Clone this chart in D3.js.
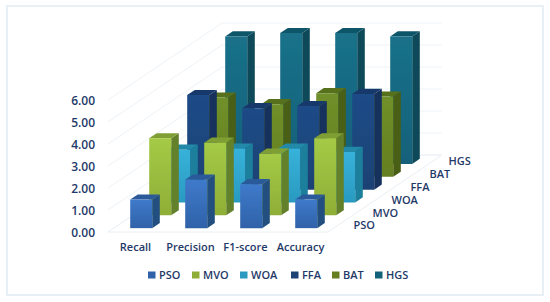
<!DOCTYPE html>
<html>
<head>
<meta charset="utf-8">
<script src="https://cdn.jsdelivr.net/npm/d3@7"></script>
<style>
  html, body { margin: 0; padding: 0; background: #fff; }
  text { font-family: "Open Sans", sans-serif; font-weight: 600; fill: #1f3a68; }
</style>
</head>
<body>
<div id="chart"></div>
<script>
let width = 550, height = 302;

let categories = ["Recall", "Precision", "F1-score", "Accuracy"];
let seriesNames = ["PSO", "MVO", "WOA", "FFA", "BAT", "HGS"];
let yTicks = [0, 1, 2, 3, 4, 5, 6];

let pso = [1.3, 2.2, 2.0, 1.3];
let mvo = [3.5, 3.3, 2.8, 3.5];
let woa = [2.4, 2.45, 2.45, 2.3];
let ffa = [4.3, 3.7, 3.8, 4.35];
let bat = [3.6, 3.3, 3.8, 3.65];
let hgs = [5.8, 5.95, 5.95, 5.8];
let seriesValues = [pso, mvo, woa, ffa, bat, hgs];

// front, top and side colours of each series
let frontTop = ["#3f7acb", "#a4ca46", "#37b2da", "#1f4b87", "#70902a", "#1a7189"];
let frontBottom = ["#2f62a8", "#8fae37", "#2a9ac0", "#1c4274", "#657f20", "#12617a"];
let topColors = ["#2a5a9a", "#7f9f35", "#2289a8", "#17386b", "#566f1c", "#0f5568"];
let sideColors = ["#24507f", "#64802b", "#1f7f9c", "#17305c", "#4a5e17", "#0d4858"];

let legendSwatchX = [148, 192, 240, 291, 332, 375];

// how far the depth axis travels on screen
let depthDx = 114, depthDy = -77;

let x = d3.scaleBand().domain(categories).range([108, 328]).paddingInner(0.6).paddingOuter(0.3);
let y = d3.scaleLinear().domain([0, 6]).range([232, 100]);
let depth = d3.scaleBand().domain(seriesNames).range([0, 1]).paddingInner(0.6).paddingOuter(0.3);

let svg = d3.select("#chart").append("svg")
  .attr("width", width)
  .attr("height", height)
  .style("display", "block");

let defs = svg.append("defs");
seriesNames.forEach(function (s, i) {
  let g = defs.append("linearGradient").attr("id", "front" + i)
    .attr("x1", 0).attr("y1", 0).attr("x2", 0).attr("y2", 1);
  g.append("stop").attr("offset", "0%").attr("stop-color", frontTop[i]);
  g.append("stop").attr("offset", "100%").attr("stop-color", frontBottom[i]);
});
// the reference is a little soft
defs.append("filter").attr("id", "soft")
  .append("feGaussianBlur").attr("stdDeviation", 0.4);

// outer frame
svg.append("rect")
  .attr("x", 7).attr("y", 6)
  .attr("width", 536).attr("height", 289)
  .attr("fill", "#fff")
  .attr("stroke", "#e8f0f6")
  .attr("stroke-width", 2);

// screen position of a point: px along the width, value up, t along the depth
function pt(px, v, t) {
  return [px + depthDx * t, y(v) + depthDy * t];
}
function poly(points) {
  return points.map(function (p) { return p.join(","); }).join(" ");
}

// floor
svg.append("polygon")
  .attr("points", poly([pt(108, 0, 0), pt(328, 0, 0), pt(328, 0, 1), pt(108, 0, 1)]))
  .attr("fill", "#fff")
  .attr("stroke", "#eaf0f5");

// gridlines on side wall and back wall
yTicks.forEach(function (v) {
  let a = pt(108, v, 0), b = pt(108, v, 1), c = pt(328, v, 1);
  svg.append("polyline")
    .attr("points", poly([a, b, c]))
    .attr("fill", "none")
    .attr("stroke", "#eef3f7");
});

// bars, back row first
let bars = svg.append("g").attr("filter", "url(#soft)");
for (let i = seriesNames.length - 1; i >= 0; i--) {
  let s = seriesNames[i];
  let t0 = depth(s), t1 = t0 + depth.bandwidth();
  let row = bars.append("g").attr("class", "row-" + s);
  categories.forEach(function (c, j) {
    let v = seriesValues[i][j];
    let x0 = x(c), x1 = x0 + x.bandwidth();
    row.append("polygon")
      .attr("points", poly([pt(x1, 0, t0), pt(x1, 0, t1), pt(x1, v, t1), pt(x1, v, t0)]))
      .attr("fill", sideColors[i]);
    row.append("polygon")
      .attr("points", poly([pt(x0, v, t0), pt(x1, v, t0), pt(x1, v, t1), pt(x0, v, t1)]))
      .attr("fill", topColors[i]);
    row.append("polygon")
      .attr("points", poly([pt(x0, 0, t0), pt(x1, 0, t0), pt(x1, v, t0), pt(x0, v, t0)]))
      .attr("fill", "url(#front" + i + ")");
  });
}

// value axis
let yAxis = svg.append("g")
  .attr("transform", "translate(108,1)")
  .call(d3.axisLeft(y).tickValues(yTicks).tickSize(0).tickPadding(13).tickFormat(d3.format(".2f")));
yAxis.select(".domain").remove();
yAxis.selectAll("text").style("font-size", "12px");

// category axis
let xAxis = svg.append("g")
  .attr("transform", "translate(0,232)")
  .call(d3.axisBottom(x).tickSize(0).tickPadding(11));
xAxis.select(".domain").remove();
xAxis.selectAll("text").style("font-size", "11px");

// series labels along the depth axis
svg.selectAll(".depth-label")
  .data(seriesNames)
  .enter()
  .append("text")
  .attr("class", "depth-label")
  .attr("x", function (d) { return pt(328, 0, depth(d) + depth.bandwidth() / 2)[0] + 16; })
  .attr("y", function (d) { return pt(328, 0, depth(d) + depth.bandwidth() / 2)[1]; })
  .attr("dy", "0.35em")
  .style("font-size", "11px")
  .text(function (d) { return d; });

// legend
let legend = svg.selectAll(".legend")
  .data(seriesNames)
  .enter()
  .append("g")
  .attr("class", "legend")
  .attr("transform", function (d, i) { return "translate(" + legendSwatchX[i] + ",275)"; });
legend.append("rect")
  .attr("x", 0).attr("y", -3.5)
  .attr("width", 7.5).attr("height", 7)
  .attr("fill", function (d, i) { return frontBottom[i]; });
legend.append("text")
  .attr("x", 11)
  .attr("dy", "0.35em")
  .style("font-size", "11px")
  .text(function (d) { return d; });
</script>
</body>
</html>
